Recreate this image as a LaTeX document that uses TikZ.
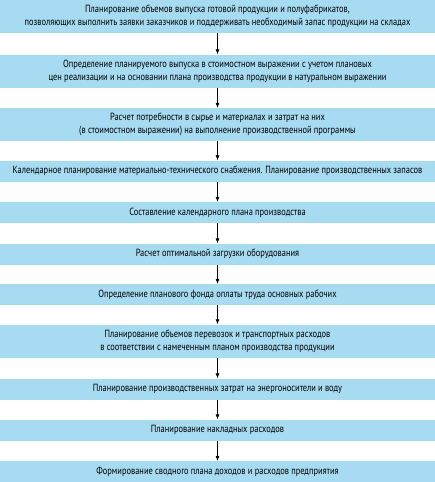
\documentclass[tikz,border=0pt]{standalone}
\usepackage{fontspec}
\setmainfont{PT Sans}[FakeStretch=0.81]
\usepackage{tikz}
\usetikzlibrary{arrows.meta}
\definecolor{boxblue}{RGB}{166,219,242}

\begin{document}
\begin{tikzpicture}[>={Latex[length=5pt,width=4pt]}, x=1pt, y=1pt,
  default/.style={fill=boxblue, draw=none, inner sep=0pt, minimum width=435pt,
    minimum height=21pt, align=center, font=\fontsize{10.4}{13}\selectfont, },
  double/.style={default, minimum height=33pt, }]
\useasboundingbox (0, 0) rectangle (435, -482);
\node[default, double, ] (A) at (217.5, -16.5) {Планирование объемов выпуска готовой продукции и полуфабрикатов,\\позволяющих выполнить заявки заказчиков и поддерживать необходимый запас продукции на складах};
\node[default, double, ] (B) at (217.5, -71) {Определение планируемого выпуска в стоимостном выражении с учетом плановых\\цен реализации и на основании плана производства продукции в натуральном выражении};
\node[default, double, ] (C) at (217.5, -124.5) {Расчет потребности в сырье и материалах и затрат на них\\(в стоимостном выражении) на выполнение производственной программы};
\node[default, ] (D) at (217.5, -171) {Календарное планирование материально-технического снабжения. Планирование производственных запасов};
\node[default, ] (E) at (217.5, -212.5) {Составление календарного плана производства};
\node[default, ] (F) at (217.5, -254) {Расчет оптимальной загрузки оборудования};
\node[default, ] (G) at (217.5, -294.5) {Определение планового фонда оплаты труда основных рабочих};
\node[default, double, ] (H) at (217.5, -341) {Планирование объемов перевозок и транспортных расходов\\в соответствии с намеченным планом производства продукции};
\node[default, ] (I) at (217.5, -389) {Планирование производственных затрат на энергоносители и воду};
\node[default, ] (J) at (217.5, -430) {Планирование накладных расходов};
\node[default, ] (K) at (217.5, -471.5) {Формирование сводного плана доходов и расходов предприятия};
\draw [->, semithick] (A) -- (B);
\draw [->, semithick] (B) -- (C);
\draw [->, semithick] (C) -- (D);
\draw [->, semithick] (D) -- (E);
\draw [->, semithick] (E) -- (F);
\draw [->, semithick] (F) -- (G);
\draw [->, semithick] (G) -- (H);
\draw [->, semithick] (H) -- (I);
\draw [->, semithick] (I) -- (J);
\draw [->, semithick] (J) -- (K);
\end{tikzpicture}
\end{document}
